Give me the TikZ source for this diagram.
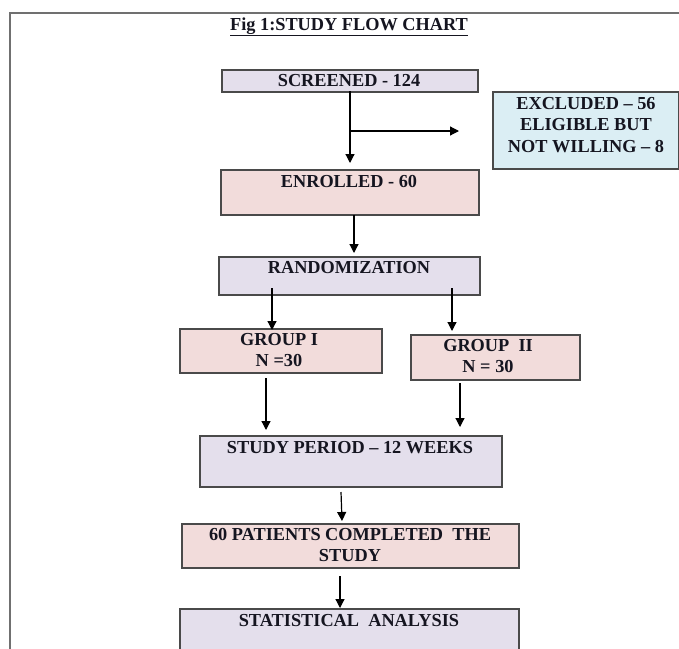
\documentclass[tikz,border=0pt]{standalone}
\usepackage{fontspec}
\setmainfont{Liberation Serif}
\usetikzlibrary{arrows.meta}
\definecolor{lav}{HTML}{E4DFEC}
\definecolor{pnk}{HTML}{F2DCDB}
\definecolor{lblue}{HTML}{DBEEF4}
\definecolor{boxline}{HTML}{4A4A4A}
\definecolor{framec}{HTML}{707070}
\definecolor{ink}{HTML}{151520}
\begin{document}
\begin{tikzpicture}[x=1pt,y=-1pt,
  box/.style={draw=boxline, line width=1.5pt, inner sep=0pt, anchor=north west},
  txt/.style={inner sep=0pt, font=\bfseries\fontsize{18.3}{21.5}\selectfont, text=ink},
  mtxt/.style={txt, anchor=north, align=center},
  btxt/.style={txt, anchor=base},
  arr/.style={draw=black, line width=1.2pt, -{Triangle[length=9pt,width=9pt]}}]
\useasboundingbox (0,0) rectangle (679,648);
\fill[white] (0,0) rectangle (679,648);
% frame
\draw[framec, line width=1.6pt] (10,700) -- (10,12.7) -- (720,12.7);
% title
\node[btxt] (title) at (349,30) {\underline{Fig 1:STUDY FLOW CHART}};
% boxes
\node[box, fill=lav, minimum width=256pt, minimum height=22pt] (scr) at (221,69) {};
\node[box, fill=lblue, minimum width=186pt, minimum height=77pt] (exc) at (492,91) {};
\node[box, fill=pnk, minimum width=258pt, minimum height=45pt] (enr) at (220,169) {};
\node[box, fill=lav, minimum width=261pt, minimum height=38pt] (rnd) at (218,256) {};
\node[box, fill=pnk, minimum width=202pt, minimum height=44pt] (g1) at (179,328) {};
\node[box, fill=pnk, minimum width=169pt, minimum height=45pt] (g2) at (410,334) {};
\node[box, fill=lav, minimum width=302pt, minimum height=51pt] (stp) at (199,435) {};
\node[box, fill=pnk, minimum width=337pt, minimum height=44pt] (pat) at (181,523) {};
\node[box, fill=lav, minimum width=339pt, minimum height=60pt] (sta) at (179,608) {};
% texts
\node[btxt] (scrt) at (349,86) {SCREENED - 124};
\node[mtxt] (exct) at (586,97) {EXCLUDED -- 56\\ELIGIBLE BUT\\NOT WILLING -- 8};
\node[btxt] (enrt) at (349,187) {ENROLLED - 60};
\node[btxt] (rndt) at (349,273) {RANDOMIZATION};
\node[mtxt] (g1t) at (279,333) {GROUP I\\N =30};
\node[mtxt] (g2t) at (488,339) {GROUP \ II\\N = 30};
\node[btxt] (stpt) at (350,453) {STUDY PERIOD -- 12 WEEKS};
\node[mtxt] (patt) at (350,528) {60 PATIENTS COMPLETED \ THE\\STUDY};
\node[btxt] (stat) at (349,626) {STATISTICAL \ ANALYSIS};
% connector coordinates
\coordinate (a1s) at (350,91);  \coordinate (a1e) at (350,163);
\coordinate (brs) at (350,131); \coordinate (bre) at (459,131);
\coordinate (a2s) at (354,215); \coordinate (a2e) at (354,253);
\coordinate (a3s) at (272,288); \coordinate (a3e) at (272,330);
\coordinate (a4s) at (452,288); \coordinate (a4e) at (452,331);
\coordinate (a5s) at (266,378); \coordinate (a5e) at (266,430);
\coordinate (a6s) at (460,383); \coordinate (a6e) at (460,427);
\coordinate (a7s) at (341,492); \coordinate (a7e) at (342,521);
\coordinate (a8s) at (340,576); \coordinate (a8e) at (340,608);
% connectors
\draw[arr] (a1s) -- (a1e);
\draw[arr] (brs) -- (bre);
\draw[arr] (a2s) -- (a2e);
\draw[arr] (a3s) -- (a3e);
\draw[arr] (a4s) -- (a4e);
\draw[arr] (a5s) -- (a5e);
\draw[arr] (a6s) -- (a6e);
\draw[arr] (a7s) -- (a7e);
\draw[arr] (a8s) -- (a8e);
\end{tikzpicture}
\end{document}
